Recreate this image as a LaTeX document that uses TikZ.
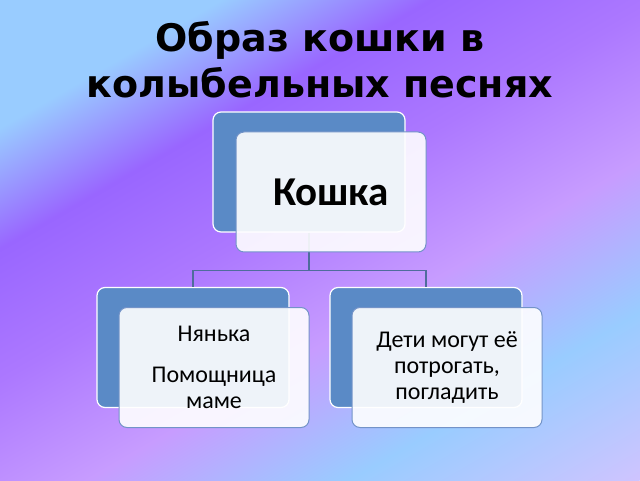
\documentclass[tikz,border=0pt]{standalone}
\usepackage{fontspec}
\setmainfont{Carlito}
\newfontfamily\headfont{DejaVu Sans}
\usepackage{tikz}
\usetikzlibrary{positioning, calc}

\definecolor{bgblue}{HTML}{99CCFF}
\definecolor{bgpurple}{HTML}{9966FF}
\definecolor{bglilac}{HTML}{AC78FF}
\definecolor{bgpink}{HTML}{C79CFF}
\definecolor{bglavender}{HTML}{CFC4FF}
\definecolor{boxblue}{HTML}{5A8AC6}
\definecolor{edgeblue}{HTML}{7393C8}
\definecolor{linkblue}{HTML}{4F6C9C}

\pgfdeclarehorizontalshading{slidebg}{100bp}{color(0bp)=(bgblue); color(32.5bp)=(bgblue);
  color(39.6bp)=(bgpurple); color(47.4bp)=(bglilac); color(56.2bp)=(bgpink);
  color(65.1bp)=(bgblue); color(75bp)=(bglavender); color(100bp)=(bglavender)}

\begin{document}
\begin{tikzpicture}
[x=1pt, y=1pt,
backbox/.style={rectangle, rounded corners=8pt, minimum width=192pt, minimum height=120pt,
  fill=boxblue, draw=white, line width=1.2pt},
frontbox/.style={rectangle, rounded corners=8pt, minimum width=190pt, minimum height=120pt,
  fill=white, fill opacity=0.9, text opacity=1, draw=edgeblue, line width=1pt,
  align=center, text=black, font=\fontsize{24}{26}\selectfont},
link/.style={draw=linkblue, line width=1.2pt},
]
    \useasboundingbox (0,0) rectangle (640,480);
    \begin{scope}
        \clip (0,0) rectangle (640,480);
        \shade[shading=slidebg, transform canvas={shift={(0,480)}, rotate=-60}] (0,-260) rectangle (736,580);
    \end{scope}
    \node (title) [anchor=north, inner sep=0pt, align=center,
      font=\headfont\bfseries\fontsize{38}{46}\selectfont] at (320,459)
      {Образ кошки в\\колыбельных песнях};
    % back boxes
    \node (catback) [backbox] at (309,308) {};
    \node (nannyback) [backbox] at (193,132.5) {};
    \node (kidsback) [backbox] at (426,132.5) {};
    % connectors
    \draw[link] (catback.south) -- ++(0,-38) coordinate (fork);
    \draw[link] (nannyback.north) |- (fork) -| (kidsback.north);
    % front boxes
    \node (catfront) [frontbox, font=\bfseries\fontsize{41}{44}\selectfont]
      at ($(catback.center)+(22,-20)$) {Кошка};
    \node (nannyfront) [frontbox] at ($(nannyback.center)+(21,-20)$)
      {Нянька\\[15pt]Помощница\\маме};
    \node (kidsfront) [frontbox] at ($(kidsback.center)+(21,-20)$)
      {Дети могут её\\потрогать,\\погладить};
\end{tikzpicture}
\end{document}
